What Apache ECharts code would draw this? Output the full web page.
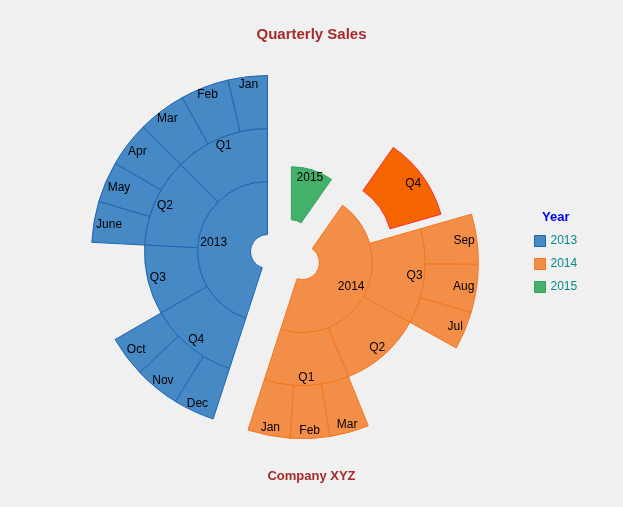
<!DOCTYPE html>
<html>
<head>
<meta charset="utf-8">
<title>Quarterly Sales</title>
<script src="https://cdn.jsdelivr.net/npm/echarts@6/dist/echarts.min.js"></script>
<style>
    html, body { margin: 0; padding: 0; background: #f0f0f0; }
    #chart { width: 623px; height: 507px; }
</style>
</head>
<body>
<div id="chart"></div>
<script>
// Data
const yearNames = ['2013', '2014', '2015'];
const quarterNames = ['Q1', 'Q2', 'Q3', 'Q4'];
const monthNames = [
    ['Jan', 'Feb', 'Mar'],
    ['Apr', 'May', 'June'],
    ['Jul', 'Aug', 'Sep'],
    ['Oct', 'Nov', 'Dec']
];
// a quarter given as a single number has no monthly breakdown
const sales2013 = [[13, 16, 16], [15, 13.5, 13.5], 33, [13.5, 15, 13.5]];
const sales2014 = [[14, 13, 13], 39, [12.5, 16, 16.5], 39];
const sales2015 = 35;
const yearSales = [sales2013, sales2014, sales2015];

// Look
const font = '"Liberation Sans", Arial, sans-serif';
const yearColors = ['#4689c5', '#f28e47', '#45b06b'];
const yearBorders = ['#1f66b2', '#f5761c', '#38a05c'];
const pickedColor = '#f46400';
const pickedBorder = '#ff2a2a';
const basePoint = [285.8, 254.4];
const explode = 18.5;      // every year is pulled out of the middle
const explodePicked = 25;  // 2014 Q4 is pulled out once more
const rings = [17, 70, 123, 176];
const labelPad = 2;

function buildTree() {
    return yearNames.map((year, y) => {
        const s = yearSales[y];
        if (!Array.isArray(s)) return { name: year, value: s };
        return {
            name: year,
            children: s.map((q, i) => Array.isArray(q)
                ? { name: quarterNames[i], children: q.map((v, m) => ({ name: monthNames[i][m], value: v })) }
                : { name: quarterNames[i], value: q })
        };
    });
}

function total(node) {
    return node.children ? node.children.reduce((a, c) => a + total(c), 0) : node.value;
}

function shift(p, deg, d) {
    const a = deg * Math.PI / 180;
    return [p[0] + d * Math.cos(a), p[1] - d * Math.sin(a)];
}

const tree = buildTree();
const grand = tree.reduce((a, n) => a + total(n), 0);
const toDeg = v => v / grand * 360;

// angles run counterclockwise from 12 o'clock
const yearCenters = [];
let acc = 0;
tree.forEach(n => {
    const mid = 90 + toDeg(acc + total(n) / 2);
    yearCenters.push(shift(basePoint, mid, explode));
    acc += total(n);
});

// middle angle of 2014 Q4
const q14 = tree[1].children;
const q4Before = total(tree[0]) + total(q14[0]) + total(q14[1]) + total(q14[2]);
const q4Mid = 90 + toDeg(q4Before + total(q14[3]) / 2);
const pickedCenter = shift(yearCenters[1], q4Mid, explodePicked);

const layers = [
    { name: '2013', center: yearCenters[0], show: p => p[0] === '2013' },
    { name: '2014', center: yearCenters[1], show: p => p[0] === '2014' && p[1] !== 'Q4' },
    { name: '2014', center: pickedCenter, picked: true, show: p => p[0] === '2014' && p[1] === 'Q4' },
    { name: '2015', center: yearCenters[2], show: p => p[0] === '2015' }
];

function dress(nodes, path, layer) {
    return nodes.map(n => {
        const p = path.concat(n.name);
        const y = yearNames.indexOf(p[0]);
        const on = layer.show(p);
        const out = { name: n.name };
        if (n.children) out.children = dress(n.children, p, layer);
        else out.value = n.value;
        out.itemStyle = on
            ? {
                color: layer.picked ? pickedColor : yearColors[y],
                borderColor: layer.picked ? pickedBorder : yearBorders[y],
                borderWidth: 1
            }
            : { color: 'rgba(0,0,0,0)', borderColor: 'rgba(0,0,0,0)', borderWidth: 0 };
        out.label = { show: on };
        return out;
    });
}

// put each label just inside the outer edge of its ring
function fitLabel(params) {
    const c = layers[params.seriesIndex].center;
    const b = params.labelRect;
    const dx = b.x + b.width / 2 - c[0];
    const dy = b.y + b.height / 2 - c[1];
    const rMid = Math.hypot(dx, dy);
    let ring = 1;
    for (let i = 1; i < rings.length; i++) {
        if (Math.abs((rings[i - 1] + rings[i]) / 2 - rMid) < Math.abs((rings[ring - 1] + rings[ring]) / 2 - rMid)) ring = i;
    }
    const ux = dx / rMid, uy = dy / rMid;
    const half = Math.min(
        b.width / 2 / Math.max(Math.abs(ux), 1e-3),
        b.height / 2 / Math.max(Math.abs(uy), 1e-3)
    );
    const r = rings[ring] - labelPad - half;
    return { x: c[0] + ux * r, y: c[1] + uy * r, align: 'center', verticalAlign: 'middle' };
}

const chart = echarts.init(document.getElementById('chart'));
chart.setOption({
    backgroundColor: '#f0f0f0',
    animation: false,
    title: [
        {
            text: 'Quarterly Sales', left: 'center', top: 27, padding: 0,
            textStyle: { color: '#a52a2a', fontSize: 15, fontWeight: 'bold', fontFamily: font }
        },
        {
            text: 'Company XYZ', left: 'center', top: 470, padding: 0,
            textStyle: { color: '#a52a2a', fontSize: 13, fontWeight: 'bold', fontFamily: font }
        },
        {
            text: 'Year', left: 542, top: 211, padding: 0,
            textStyle: { color: '#0000ff', fontSize: 13, fontWeight: 'bold', fontFamily: font }
        }
    ],
    legend: {
        orient: 'vertical',
        left: 534,
        top: 234,
        padding: 0,
        icon: 'rect',
        itemWidth: 11,
        itemHeight: 11,
        itemGap: 9,
        selectedMode: false,
        textStyle: { color: '#008b8b', fontSize: 12, lineHeight: 14, fontFamily: font },
        data: yearNames.map((name, y) => ({
            name,
            itemStyle: { color: yearColors[y], borderColor: yearBorders[y], borderWidth: 1 }
        }))
    },
    series: layers.map(layer => ({
        type: 'sunburst',
        name: layer.name,
        center: layer.center,
        startAngle: 90,
        clockwise: false,
        sort: null,
        nodeClick: false,
        radius: [rings[0], rings[3]],
        itemStyle: {
            color: yearColors[yearNames.indexOf(layer.name)],
            borderColor: yearBorders[yearNames.indexOf(layer.name)],
            borderWidth: 1
        },
        emphasis: { disabled: true },
        label: {
            rotate: 0,
            color: '#000',
            fontSize: 12,
            lineHeight: 12,
            fontFamily: font,
            textBorderWidth: 0
        },
        levels: [
            {},
            { r0: rings[0], r: rings[1] },
            { r0: rings[1], r: rings[2] },
            { r0: rings[2], r: rings[3] }
        ],
        labelLayout: fitLabel,
        data: dress(tree, [], layer)
    }))
});
</script>
</body>
</html>
